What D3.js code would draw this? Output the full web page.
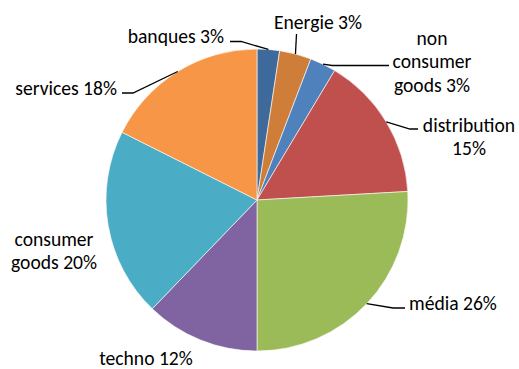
<!DOCTYPE html>
<html>
<head>
<meta charset="utf-8">
<script src="https://cdn.jsdelivr.net/npm/d3@7"></script>
<style>
  html, body { margin: 0; padding: 0; background: #fff; }
  svg { display: block; }
  text { font-family: Carlito, Lato, "Open Sans", sans-serif; fill: #000; }
</style>
</head>
<body>
<svg id="chart" width="519" height="369"></svg>
<script>
// ---- data ----
const categories = ["banques", "Energie", "non consumer goods", "distribution", "média", "techno", "consumer goods", "services"];
const values = [2.4, 3.4, 2.8, 15.5, 25.9, 12.2, 20.2, 17.6];
const percentLabels = ["3%", "3%", "3%", "15%", "26%", "12%", "20%", "18%"];
const colors = ["#3E6A9B", "#CF7E3A", "#4F81BD", "#C0504D", "#9BBB59", "#8064A2", "#4BACC6", "#F79646"];

// ---- layout (label placement) ----
const cx = 257, cy = 200, radius = 151;
const labelLayout = [
  { lines: ["banques 3%"], x: 224, y: 36, anchor: "end", leader: [[241, 41.5], [230, 41.5]] },
  { lines: ["Energie 3%"], x: 318, y: 22, anchor: "middle", leader: [[296.5, 34]] },
  { lines: ["non", "consumer", "goods 3%"], x: 432, y: 38, anchor: "middle", leader: [[332, 65.5], [389, 65.5]] },
  { lines: ["distribution", "15%"], x: 469, y: 125, anchor: "middle", leader: [[410, 129], [418, 129]] },
  { lines: ["média 26%"], x: 409, y: 303, anchor: "start", leader: [[393, 308], [405, 308]] },
  { lines: ["techno 12%"], x: 146, y: 358.5, anchor: "middle", leader: null },
  { lines: ["consumer", "goods 20%"], x: 54, y: 239, anchor: "middle", leader: null },
  { lines: ["services 18%"], x: 117, y: 88, anchor: "end", leader: [[133, 93], [122, 93]] }
];
const lineGap = 23.5;

const svg = d3.select("#chart");
const g = svg.append("g").attr("transform", `translate(${cx},${cy})`);

const data = categories.map((c, i) => ({ name: c, value: values[i], pct: percentLabels[i], color: colors[i], layout: labelLayout[i] }));

const pie = d3.pie().value(d => d.value).sort(null);
const arc = d3.arc().innerRadius(0).outerRadius(radius);
const arcs = pie(data);

g.selectAll("path.slice")
  .data(arcs)
  .enter().append("path")
  .attr("class", "slice")
  .attr("d", arc)
  .attr("fill", d => d.data.color)
  .attr("stroke", "#fff")
  .attr("stroke-width", 0.6);

// font size calibration: "consumer" ~ 79px wide
const probe = svg.append("text").attr("font-size", 20).text("consumer");
const w = probe.node().getComputedTextLength();
probe.remove();
const fontSize = 20 * 79 / w;

// leader lines from the slice's outer mid-point
arcs.forEach(a => {
  const L = a.data.layout;
  if (!L.leader) return;
  const mid = (a.startAngle + a.endAngle) / 2;
  const start = [cx + radius * Math.sin(mid), cy - radius * Math.cos(mid)];
  const pts = [start].concat(L.leader);
  svg.append("path")
    .attr("d", d3.line()(pts))
    .attr("fill", "none")
    .attr("stroke", "#000")
    .attr("stroke-width", 1.3);
});

// labels
arcs.forEach(a => {
  const L = a.data.layout;
  const t = svg.append("text")
    .attr("text-anchor", L.anchor)
    .attr("font-size", fontSize);
  L.lines.forEach((ln, i) => {
    t.append("tspan")
      .attr("x", L.x)
      .attr("y", L.y + i * lineGap)
      .attr("dy", "0.35em")
      .text(ln);
  });
});
</script>
</body>
</html>
